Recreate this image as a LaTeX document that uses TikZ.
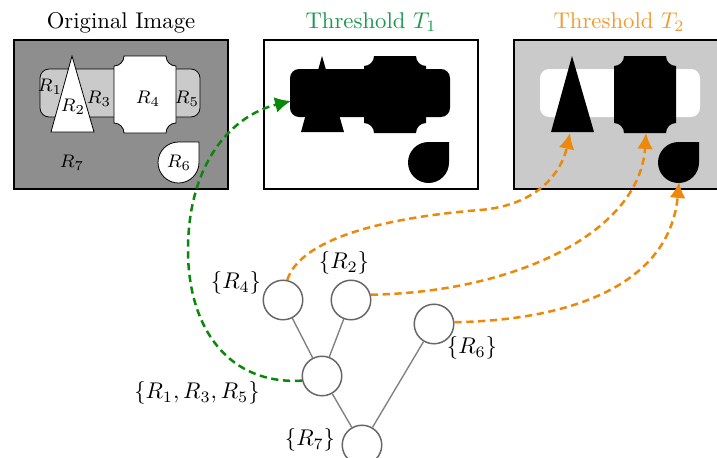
\documentclass[tikz,border=0pt]{standalone}
\usetikzlibrary{arrows.meta}
\definecolor{darkbg}{HTML}{8E8E8E}
\definecolor{lightbg}{HTML}{CACACA}
\definecolor{titlegreen}{HTML}{1A9850}
\definecolor{titleorange}{HTML}{F39A2C}
\definecolor{arrgreen}{HTML}{0A880A}
\definecolor{arrorange}{HTML}{EE8808}
\definecolor{treegray}{HTML}{666666}
\begin{document}
\begin{tikzpicture}[x=0.44pt,y=-0.44pt,
  panel/.style={draw=black,line width=0.5pt},
  outl/.style={draw=black,line width=0.35pt},
  title/.style={anchor=base,inner sep=0pt},
  rlab/.style={font=\footnotesize,inner sep=0pt},
  tnode/.style={circle,draw=treegray,line width=0.65pt,minimum size=17.4pt,inner sep=0pt},
  tedge/.style={draw=gray,line width=0.6pt},
  tlab/.style={inner sep=0pt},
  garr/.style={arrgreen,line width=1.1pt,dash pattern=on 3.2pt off 2pt,-{Latex[length=7pt,width=7pt]}},
  oarr/.style={arrorange,line width=1.1pt,dash pattern=on 3.2pt off 2pt,-{Latex[length=7pt,width=7pt]}},
]
\useasboundingbox (0,0) rectangle (717,457);
% shape macros
\def\rrect{(40,69) rectangle (200,117)}
\def\tri{(72,56) -- (51,132) -- (94,132) -- cycle}
\def\rfour{(124,56) -- (166,56) arc[start angle=180,end angle=90,radius=10] -- (176,123) arc[start angle=270,end angle=180,radius=10] -- (124,133) arc[start angle=0,end angle=-90,radius=10] -- (114,66) arc[start angle=90,end angle=0,radius=10] -- cycle}
\def\rsix{(178.5,142) -- (199,142) -- (199,162.5) arc[start angle=0,end angle=270,radius=20.5] -- cycle}
% titles
\node[title] (tt0) at (121,28) {Original Image};
\node[title,text=titlegreen] (tt1) at (371,28) {Threshold $T_1$};
\node[title,text=titleorange] (tt2) at (619,28) {Threshold $T_2$};
% panel 1
\fill[darkbg] (14,40) rectangle (228,189);
\filldraw[fill=lightbg,outl,rounded corners=4pt] \rrect;
\filldraw[fill=white,outl] \rfour;
\filldraw[fill=white,outl] \tri;
\filldraw[fill=white,outl] \rsix;
\draw[panel] (14,40) rectangle (228,189);
\node[rlab] (l1) at (50,87) {$R_1$};
\node[rlab] (l2) at (73,107) {$R_2$};
\node[rlab] (l3) at (99,99) {$R_3$};
\node[rlab] (l4) at (148,99) {$R_4$};
\node[rlab] (l5) at (187,99) {$R_5$};
\node[rlab] (l6) at (179,163) {$R_6$};
\node[rlab] (l7) at (72,163) {$R_7$};
% panel 2
\begin{scope}[shift={(250,0)}]
\fill[white] (14,40) rectangle (228,189);
\fill[black,rounded corners=4pt] \rrect;
\fill[black] \rfour;
\fill[black] \tri;
\fill[black] \rsix;
\draw[panel] (14,40) rectangle (228,189);
\end{scope}
% panel 3
\begin{scope}[shift={(500,0)}]
\fill[lightbg] (14,40) rectangle (228,189);
\fill[white,rounded corners=4pt] \rrect;
\fill[black] \rfour;
\fill[black] \tri;
\fill[black] \rsix;
\draw[panel] (14,40) rectangle (228,189);
\end{scope}
% tree
\node[tnode] (n4) at (283,300) {};
\node[tnode] (n2) at (351,300) {};
\node[tnode] (n6) at (434,324) {};
\node[tnode] (n135) at (322,376) {};
\node[tnode] (n7) at (362,445) {};
\draw[tedge] (n4) -- (n135);
\draw[tedge] (n2) -- (n135);
\draw[tedge] (n135) -- (n7);
\draw[tedge] (n6) -- (n7);
\node[tlab] (lab4) at (236,283) {$\{R_4\}$};
\node[tlab] (lab2) at (344,263) {$\{R_2\}$};
\node[tlab] (lab6) at (472,348) {$\{R_6\}$};
\node[tlab] (lab135) at (197,393) {$\{R_1,R_3,R_5\}$};
\node[tlab] (lab7) at (310,440) {$\{R_7\}$};
% targets
\coordinate (g1) at (291,101);
\coordinate (o1) at (570,133);
\coordinate (o2) at (646,133);
\coordinate (o3) at (679,182);
\draw[garr] (n135.193) .. controls (230,385) and (188,330) .. (188,250) .. controls (188,165) and (230,116) .. (g1);
\draw[oarr] (n4.78) .. controls (300,240) and (380,218) .. (480,210) .. controls (540,205) and (562,170) .. (o1);
\draw[oarr] (n2.15) .. controls (520,292) and (640,230) .. (o2);
\draw[oarr] (n6.5) .. controls (580,320) and (670,280) .. (o3);
\end{tikzpicture}
\end{document}
